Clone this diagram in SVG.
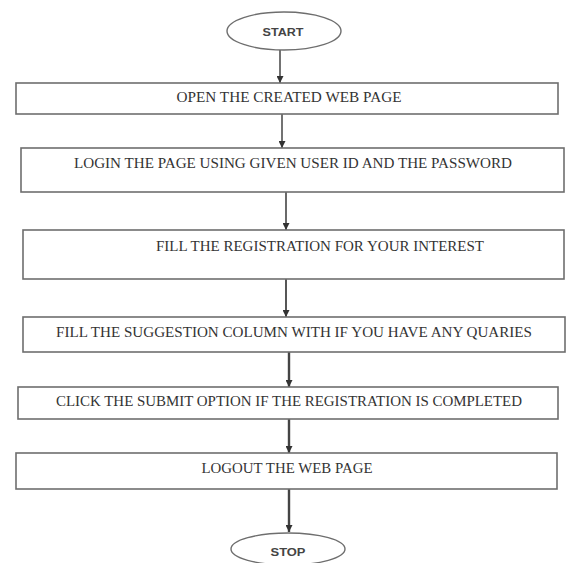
<svg xmlns="http://www.w3.org/2000/svg" width="567" height="563" viewBox="0 0 567 563">
<defs>
<marker id="ah" viewBox="0 0 10 10" refX="10" refY="5" markerWidth="7" markerHeight="7" markerUnits="userSpaceOnUse" orient="auto">
<path d="M0,0 L10,5 L0,10 z" fill="#333"/>
</marker>
<style>
.box{fill:#fff;stroke:#6e6e6e;stroke-width:1.6}
.term{fill:#fff;stroke:#6e6e6e;stroke-width:1.4}
.t{font-family:"Liberation Serif","Times New Roman",serif;font-size:14px;fill:#333;text-anchor:middle}
.ts{font-family:"Liberation Sans",Arial,sans-serif;font-size:10px;font-weight:bold;fill:#444;text-anchor:middle}
.c{stroke:#444;fill:none;marker-end:url(#ah)}
</style>
</defs>
<rect width="567" height="563" fill="#fff"/>
<g id="connectors">
<line class="c" x1="280" y1="50" x2="280" y2="83" stroke-width="1.5"/>
<line class="c" x1="282" y1="114" x2="282" y2="148" stroke-width="1.5"/>
<line class="c" x1="286" y1="192" x2="286" y2="230" stroke-width="1.6"/>
<line class="c" x1="286" y1="279" x2="286" y2="317" stroke-width="1.8"/>
<line class="c" x1="289" y1="352" x2="289" y2="387" stroke-width="2.4"/>
<line class="c" x1="289" y1="419" x2="289" y2="453" stroke-width="2.4"/>
<line class="c" x1="289" y1="489" x2="289" y2="532" stroke-width="2.4"/>
</g>
<g id="start">
<ellipse class="term" cx="284" cy="31" rx="57" ry="19"/>
<text class="ts" x="283" y="36" textLength="41" lengthAdjust="spacingAndGlyphs">START</text>
</g>
<g id="step1">
<rect class="box" x="16" y="83" width="542" height="31"/>
<text class="t" x="289" y="102" textLength="225" lengthAdjust="spacingAndGlyphs">OPEN THE CREATED WEB PAGE</text>
</g>
<g id="step2">
<rect class="box" x="21" y="148" width="543" height="44"/>
<text class="t" x="293" y="168" textLength="438" lengthAdjust="spacingAndGlyphs">LOGIN THE PAGE USING GIVEN USER ID AND THE PASSWORD</text>
</g>
<g id="step3">
<rect class="box" x="23" y="230" width="541" height="49"/>
<text class="t" x="320" y="251" textLength="328" lengthAdjust="spacingAndGlyphs">FILL THE REGISTRATION FOR YOUR INTEREST</text>
</g>
<g id="step4">
<rect class="box" x="23" y="317" width="542" height="35"/>
<text class="t" x="294" y="337" textLength="476" lengthAdjust="spacingAndGlyphs">FILL THE SUGGESTION COLUMN WITH IF YOU HAVE ANY QUARIES</text>
</g>
<g id="step5">
<rect class="box" x="18" y="387" width="540" height="32"/>
<text class="t" x="289" y="406" textLength="466" lengthAdjust="spacingAndGlyphs">CLICK THE SUBMIT OPTION IF THE REGISTRATION IS COMPLETED</text>
</g>
<g id="step6">
<rect class="box" x="16" y="453" width="541" height="36"/>
<text class="t" x="287" y="473" textLength="171" lengthAdjust="spacingAndGlyphs">LOGOUT THE WEB PAGE</text>
</g>
<g id="stop">
<ellipse class="term" cx="288" cy="549" rx="57" ry="16"/>
<text class="ts" x="288" y="556" textLength="35" lengthAdjust="spacingAndGlyphs">STOP</text>
</g>
</svg>
